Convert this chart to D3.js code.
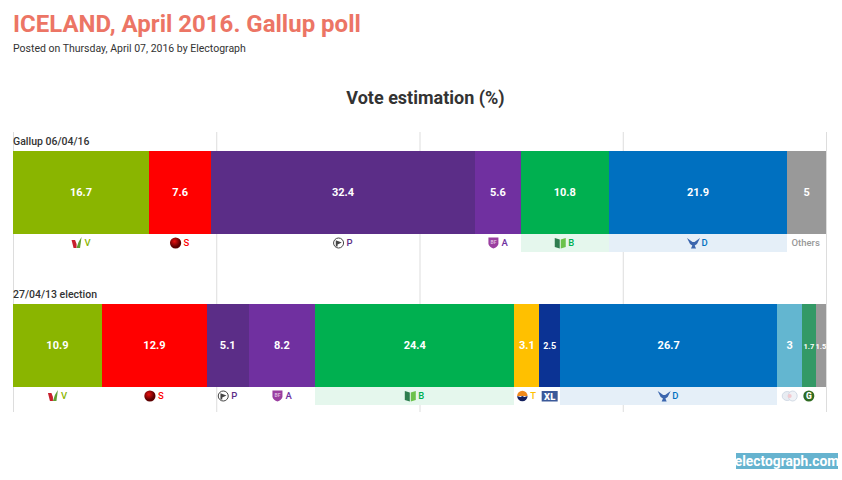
<!DOCTYPE html>
<html><head><meta charset="utf-8">
<script src="https://cdn.jsdelivr.net/npm/d3@7/dist/d3.min.js"></script>
<style>html,body{margin:0;padding:0;background:#fff}svg{display:block}text{font-family:Roboto,sans-serif}</style>
</head><body><svg id="c" width="842" height="480"></svg>
<script>
const pollLabel = "Gallup 06/04/16";
const pollParties = ["V","S","P","A","B","D","Others"];
const pollValues = [16.7,7.6,32.4,5.6,10.8,21.9,5];
const electionLabel = "27/04/13 election";
const electionParties = ["V","S","P","A","B","T","XL","D","I","G","O"];
const electionValues = [10.9,12.9,5.1,8.2,24.4,3.1,2.5,26.7,3,1.7,1.5];
const partyColors = {V:"#8AB500",S:"#FF0000",P:"#5B2D87",A:"#7030A0",B:"#00B050",T:"#FFC000",XL:"#0B3394",D:"#0070C0",I:"#63B6D0",G:"#339966",O:"#999999",Others:"#999999"};
const tintColors = {B:"#E5F7ED",D:"#E5EFF8"};
const textLabels = {V:"V",S:"S",P:"P",A:"A",B:"B",T:"T",D:"D"};
const gridTicks = [0,25,50,75,100];

const svg = d3.select("#c");
const defs = svg.append("defs");
const rg = defs.append("radialGradient").attr("id","sball").attr("cx","40%").attr("cy","35%");
rg.append("stop").attr("offset","0%").attr("stop-color","#e81010");
rg.append("stop").attr("offset","100%").attr("stop-color","#5c0000");

const gridX = d3.scaleLinear().domain([0,100]).range([13,826]);
const x = d3.scaleLinear().domain([0,100]).range([13,828]);
const xEnd = v => Math.min(x(v), gridX(100));
const rowY = d3.scaleOrdinal().domain(["poll","election"]).range([151,304]);
const barH = 83, bandH = 18;

svg.append("text").attr("x",13).attr("y",32).attr("font-size",24).attr("font-weight",700).attr("fill","#EC7565").text("ICELAND, April 2016. Gallup poll");
svg.append("text").attr("x",13).attr("y",52).attr("font-size",10.5).attr("fill","#333").text("Posted on Thursday, April 07, 2016 by Electograph");
svg.append("text").attr("x",425.5).attr("y",104).attr("text-anchor","middle").attr("font-size",18).attr("font-weight",700).attr("fill","#333").text("Vote estimation (%)");

svg.append("g").selectAll("line").data(gridTicks).join("line")
  .attr("x1",d=>gridX(d)+0.5).attr("x2",d=>gridX(d)+0.5).attr("y1",132).attr("y2",412)
  .attr("stroke","#DDDDDD").attr("stroke-width",1);

const icons = {
  V(g){g.append("path").attr("d","M-5,-3 L-1.5,-3 L0,1 L0,5 L-3,5 Z").attr("fill","#C8202E");
       g.append("path").attr("d","M0,5 L2,-1 L5,-6 L3.5,5 Z").attr("fill","#5F9E35");},
  S(g){g.append("circle").attr("r",5.6).attr("fill","url(#sball)");},
  P(g){g.append("circle").attr("r",5).attr("fill","#fff").attr("stroke","#444").attr("stroke-width",1);
       g.append("path").attr("d","M-2.8,-2.8 L3.2,-0.5 L-1,1.5 L-1,3.4 L-2.8,3.4 Z").attr("fill","#444");},
  A(g){g.append("path").attr("d","M-5,-5.5 L5,-5.5 L5,1 Q4,4 0,5.5 Q-4,4 -5,1 Z").attr("fill","#9A3FA0");
       g.append("text").attr("y",1).attr("text-anchor","middle").attr("font-size",5).attr("font-weight",700).attr("fill","#D9B4DC").text("BF");},
  B(g){g.append("path").attr("d","M-5.5,-5 L-0.5,-3.5 L-0.5,5.5 L-5.5,4 Z").attr("fill","#2E7D4F");
       g.append("path").attr("d","M0.5,-3.5 L5.5,-5 L5.5,4 L0.5,5.5 Z").attr("fill","#6CC24A");},
  D(g){g.append("path").attr("d","M-6.5,-5 L-1,-1 L1,-1 L6.5,-5 L3.5,1 L1.2,2.5 L2.5,5.5 L-2.5,5.5 L-1.2,2.5 L-3.5,1 Z").attr("fill","#3B66AE");},
  T(g){g.append("path").attr("d","M-5.2,0 A5.2,5.2 0 0 1 5.2,0 Z").attr("fill","#F08A1D");
       g.append("path").attr("d","M-5.2,0 L-2,1 L0,0 L2,1 L5.2,0 A5.2,5.2 0 0 1 -5.2,0 Z").attr("fill","#14205E");},
  XL(g){g.append("rect").attr("x",-8).attr("y",-5).attr("width",16).attr("height",10.5).attr("fill","#3C5A9A");
        g.append("text").attr("y",3.5).attr("text-anchor","middle").attr("font-size",9.5).attr("font-weight",900).attr("fill","#fff").text("XL");},
  I(g){g.append("ellipse").attr("cx",-2.5).attr("rx",5).attr("ry",4.5).attr("fill","#E8ECF2").attr("stroke","#C9D3E0").attr("stroke-width",0.8);
       g.append("ellipse").attr("cx",3).attr("rx",4.5).attr("ry",5).attr("fill","#F0F2F6").attr("stroke","#C9D3E0").attr("stroke-width",0.8);
       g.append("circle").attr("r",2).attr("fill","#F2C9CF");},
  G(g){g.append("circle").attr("r",5.5).attr("fill","#2F6B22");
       g.append("text").attr("y",3).attr("text-anchor","middle").attr("font-size",8.5).attr("font-weight",900).attr("fill","#fff").text("G");}
};

function row(key,label,parties,values){
  const y0 = rowY(key);
  const starts = d3.cumsum(values);
  const segs = parties.map((p,i)=>({p,v:values[i],a:starts[i]-values[i],b:starts[i]}));
  svg.append("text").attr("x",13).attr("y",y0-6).attr("font-size",10.5).attr("font-weight",500).attr("fill","#333").text(label);
  svg.append("g").attr("shape-rendering","crispEdges").selectAll("rect").data(segs.filter(d=>tintColors[d.p])).join("rect")
    .attr("x",d=>xEnd(d.a)).attr("width",d=>xEnd(d.b)-xEnd(d.a)).attr("y",y0+barH).attr("height",bandH).attr("fill",d=>tintColors[d.p]);
  svg.append("g").attr("shape-rendering","crispEdges").selectAll("rect").data(segs).join("rect")
    .attr("x",d=>xEnd(d.a)).attr("width",d=>xEnd(d.b)-xEnd(d.a)).attr("y",y0).attr("height",barH).attr("fill",d=>partyColors[d.p]);
  svg.append("g").selectAll("text").data(segs).join("text")
    .attr("x",d=>(xEnd(d.a)+xEnd(d.b))/2).attr("y",y0+barH/2+3.5).attr("text-anchor","middle")
    .attr("font-weight",700).attr("fill","#fff").attr("font-size",d=>d.v<2?7.5:d.v<3?9:11).text(d=>d.v);
  segs.forEach(d=>{
    const c=(xEnd(d.a)+xEnd(d.b))/2, ly=y0+barH+9;
    if(d.p==="Others"){
      svg.append("text").attr("x",c-1).attr("y",ly+3).attr("text-anchor","middle").attr("font-size",9.5).attr("font-weight",500).attr("fill","#999").text("Others");
      return;
    }
    if(d.p==="O") return;
    const hasText=!!textLabels[d.p];
    const g=svg.append("g").attr("transform",`translate(${hasText?c-4.5:c},${ly})`);
    icons[d.p](g);
    if(hasText) svg.append("text").attr("x",c+3.5).attr("y",ly+2.5).attr("font-size",9.5).attr("font-weight",500).attr("fill",partyColors[d.p]).text(textLabels[d.p]);
  });
}
row("poll",pollLabel,pollParties,pollValues);
row("election",electionLabel,electionParties,electionValues);

const wm=svg.append("g");
wm.append("rect").attr("x",736).attr("y",453).attr("width",102).attr("height",16).attr("fill","#66B3CF");
wm.append("text").attr("x",787).attr("y",465.5).attr("text-anchor","middle").attr("font-size",13.8).attr("font-weight",700).attr("fill","#fff").text("electograph.com");
</script></body></html>
